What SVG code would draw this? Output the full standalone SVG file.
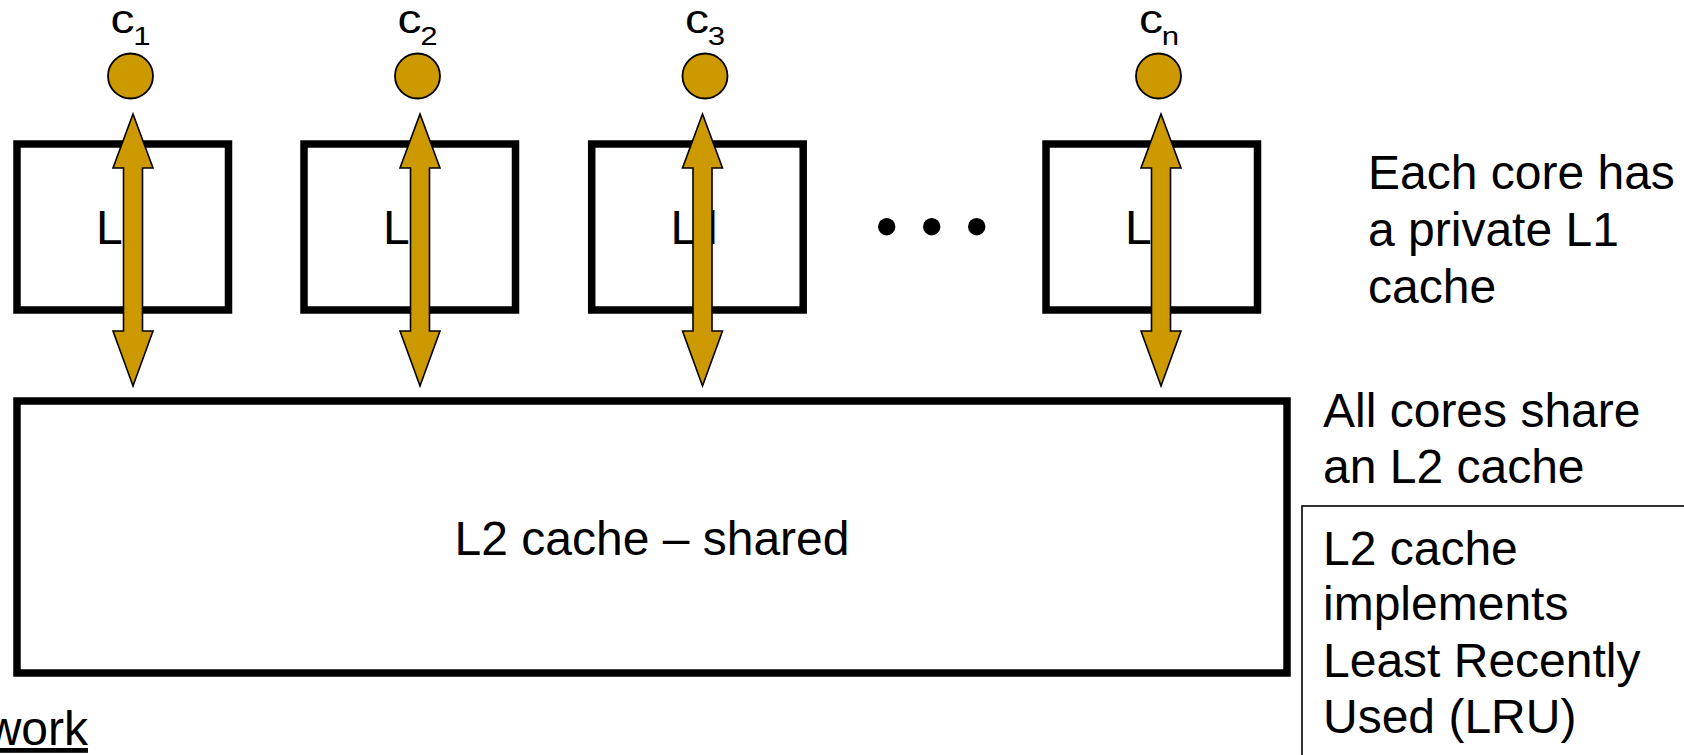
<svg xmlns="http://www.w3.org/2000/svg" width="1684" height="755" viewBox="0 0 1684 755">
  <style>
    .t { font-family: "Liberation Sans", Arial, sans-serif; fill: #000; }
    .big { font-size: 48px; }
    .lbl { font-size: 40px; }
    .sub { font-size: 26px; }
    .one { font-family: Roboto, "Liberation Sans", sans-serif; }
    .box { fill: #fff; stroke: #000; stroke-width: 7.5; }
    .core { fill: #CC9900; stroke: #000; stroke-width: 1.8; }
    .arr { fill: #CC9900; stroke: #000; stroke-width: 1.6; stroke-linejoin: miter; }
    .note { fill: none; stroke: #000; stroke-width: 1.6; }
  </style>
  <defs>
    <path id="dblarrow" class="arr" d="M0,114 L20,168 L9.5,168 L9.5,331 L20,331 L0,386 L-20,331 L-9.5,331 L-9.5,168 L-20,168 Z"/>
  </defs>
  <rect width="1684" height="755" fill="#fff"/>

  <g id="core1">
    <circle class="core" cx="130.5" cy="76" r="22.5"/>
    <text class="t lbl" transform="translate(110.5,33) scale(1.2,1)">c<tspan class="sub" dx="-1" dy="12">1</tspan></text>
  </g>
  <g id="core2">
    <circle class="core" cx="417.5" cy="76" r="22.5"/>
    <text class="t lbl" transform="translate(397.5,33) scale(1.2,1)">c<tspan class="sub" dx="-1" dy="12">2</tspan></text>
  </g>
  <g id="core3">
    <circle class="core" cx="705" cy="76" r="22.5"/>
    <text class="t lbl" transform="translate(685,33) scale(1.2,1)">c<tspan class="sub" dx="-1" dy="12">3</tspan></text>
  </g>
  <g id="coren">
    <circle class="core" cx="1158.5" cy="76" r="22.5"/>
    <text class="t lbl" transform="translate(1139,33) scale(1.2,1)">c<tspan class="sub" dx="-1" dy="12">n</tspan></text>
  </g>

  <g id="l1-1">
    <rect class="box" x="17" y="144" width="211.5" height="166"/>
    <text class="t big" x="122.75" y="244" text-anchor="middle">L<tspan class="one">1</tspan></text>
  </g>
  <g id="l1-2">
    <rect class="box" x="304" y="144" width="211.5" height="166"/>
    <text class="t big" x="409.75" y="244" text-anchor="middle">L<tspan class="one">1</tspan></text>
  </g>
  <g id="l1-3">
    <rect class="box" x="591.7" y="144" width="211.5" height="166"/>
    <text class="t big" x="697.45" y="244" text-anchor="middle">L<tspan class="one">1</tspan></text>
  </g>
  <g id="l1-n">
    <rect class="box" x="1046" y="144" width="211.5" height="166"/>
    <text class="t big" x="1151.75" y="244" text-anchor="middle">L<tspan class="one">1</tspan></text>
  </g>

  <g id="ellipsis">
    <circle cx="886.7" cy="226.7" r="8.7" fill="#000"/>
    <circle cx="931.7" cy="226.7" r="8.7" fill="#000"/>
    <circle cx="976.7" cy="226.7" r="8.7" fill="#000"/>
  </g>

  <g id="l2">
    <rect class="box" x="17" y="401" width="1270" height="272"/>
    <text class="t big" x="652" y="555" text-anchor="middle">L2 cache – shared</text>
  </g>

  <g id="connectors">
    <use href="#dblarrow" x="133" y="0"/>
    <use href="#dblarrow" x="420" y="0"/>
    <use href="#dblarrow" x="702.5" y="0"/>
    <use href="#dblarrow" x="1161" y="0"/>
  </g>

  <g id="note-l1">
    <text class="t big" x="1368" y="189">Each core has</text>
    <text class="t big" x="1368" y="246">a private L1</text>
    <text class="t big" x="1368" y="303">cache</text>
  </g>
  <g id="note-l2">
    <text class="t big" x="1323" y="427">All cores share</text>
    <text class="t big" x="1323" y="483">an L2 cache</text>
  </g>
  <g id="note-lru">
    <rect class="note" x="1302" y="506" width="400" height="300"/>
    <text class="t big" x="1323" y="565">L2 cache</text>
    <text class="t big" x="1323" y="620">implements</text>
    <text class="t big" x="1323" y="677">Least Recently</text>
    <text class="t big" x="1323" y="733">Used (LRU)</text>
  </g>
  <g id="work">
    <text class="t big" x="88" y="745" text-anchor="end" text-decoration="underline">work</text>
  </g>
</svg>
